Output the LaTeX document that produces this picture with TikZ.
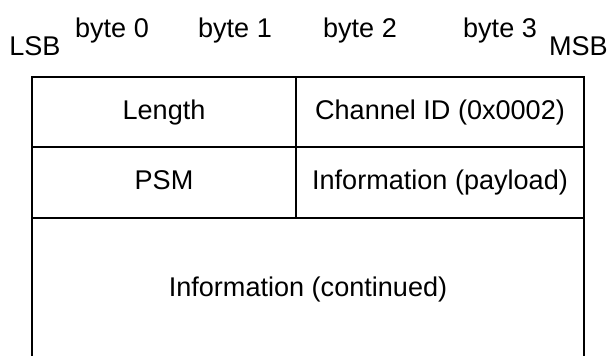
\documentclass[tikz,border=0pt]{standalone}
\usepackage{fontspec}
\setmainfont{Liberation Sans}
\begin{document}
\begin{tikzpicture}[x=0.75pt,y=-0.75pt,
  frame/.style={line width=1.5pt, line cap=rect},
  lbl/.style={font=\fontsize{20.3}{23}\selectfont, anchor=base, inner sep=0pt}]
\useasboundingbox (0,0) rectangle (609,356);
% header labels
\node[lbl, anchor=base west] (lsb) at (9,56) {LSB};
\node[lbl] (b0) at (112,38) {byte 0};
\node[lbl] (b1) at (235,38) {byte 1};
\node[lbl] (b2) at (360,38) {byte 2};
\node[lbl] (b3) at (500,38) {byte 3};
\node[lbl, anchor=base east] (msb) at (608,56) {MSB};
% frame
\coordinate (tl) at (32,77);
\coordinate (tr) at (584,77);
\coordinate (bl) at (32,356);
\coordinate (br) at (584,356);
\coordinate (m1) at (296,77);
\coordinate (m2) at (296,218);
\coordinate (r1l) at (32,147);
\coordinate (r1r) at (584,147);
\coordinate (r2l) at (32,218);
\coordinate (r2r) at (584,218);
\draw[frame] (bl) -- (tl) -- (tr) -- (br);
\draw[frame] (r1l) -- (r1r);
\draw[frame] (r2l) -- (r2r);
\draw[frame] (m1) -- (m2);
% cell texts
\node[lbl] (len) at (164,119) {Length};
\node[lbl] (cid) at (440,119) {Channel ID (0x0002)};
\node[lbl] (psm) at (164,189.5) {PSM};
\node[lbl] (pay) at (440,189.5) {Information (payload)};
\node[lbl] (cont) at (308,296) {Information (continued)};
\end{tikzpicture}
\end{document}
